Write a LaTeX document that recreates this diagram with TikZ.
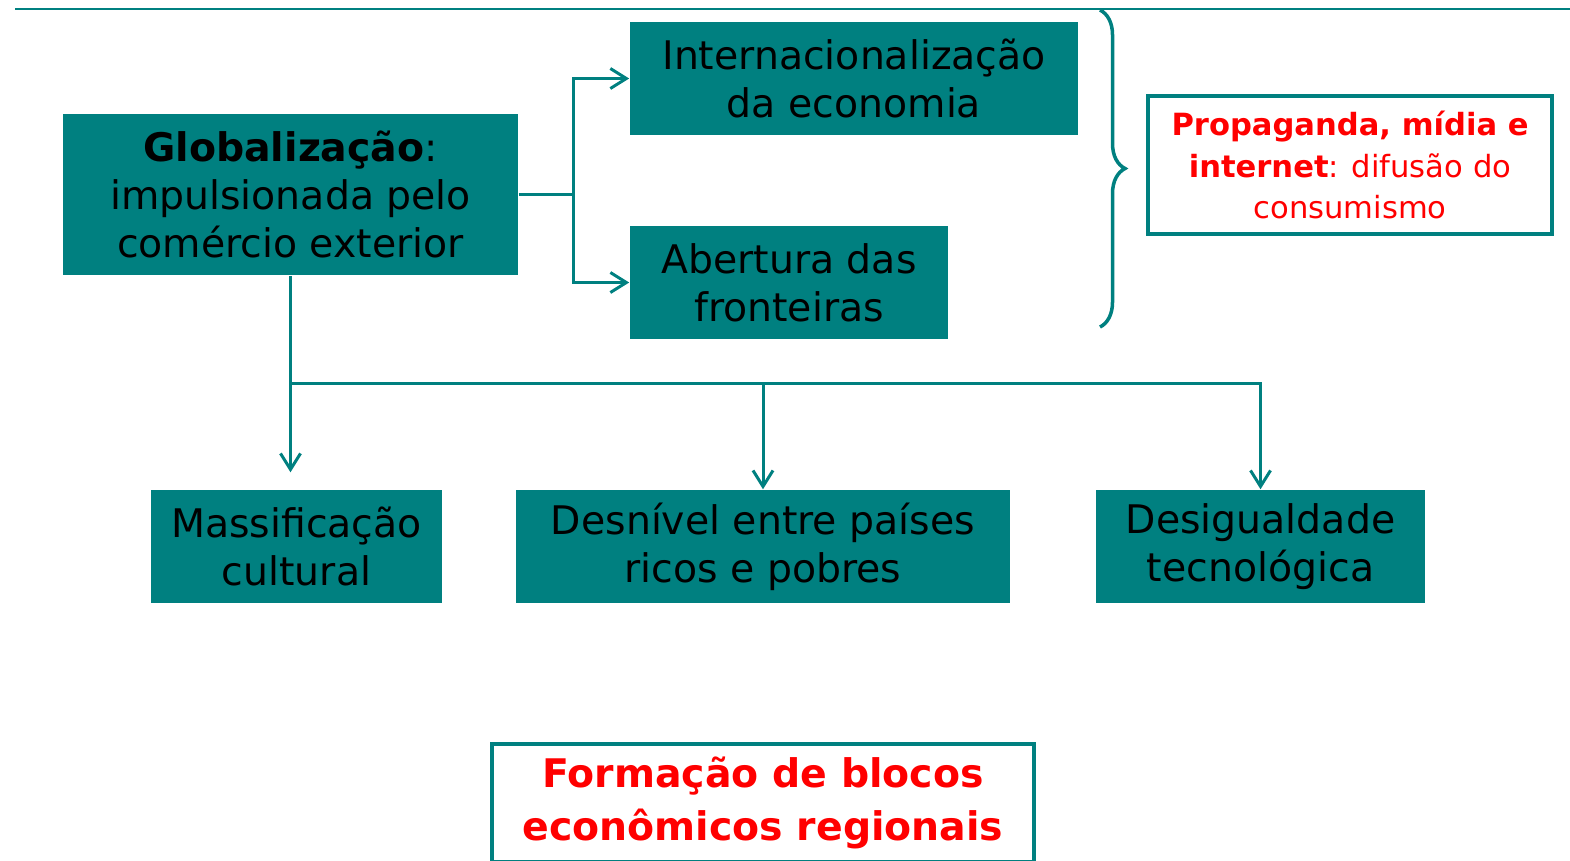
\documentclass[tikz,border=0pt]{standalone}
\usepackage{fontspec}
\setmainfont{DejaVu Sans}
\usetikzlibrary{arrows.meta,decorations.pathreplacing}
\definecolor{boxteal}{RGB}{0,128,128}
\definecolor{txtred}{RGB}{255,0,0}

\begin{document}
\begin{tikzpicture}[x=0.01cm,y=-0.01cm,
	tealbox/.style={fill=boxteal, text=black, align=center, inner sep=0pt,
		minimum height=1.13cm, font=\fontsize{11.2}{13.7}\selectfont},
	framebox/.style={draw=boxteal, line width=1.3pt, fill=white, text=txtred,
		align=center, inner sep=0pt},
	link/.style={draw=boxteal, line width=0.85pt},
	arr/.style={link, -{Straight Barb[length=1.6mm,width=2mm]}}]
	\useasboundingbox (0,0) rectangle (1570,860);
	\clip (0,0) rectangle (1570,860);
	\draw[boxteal, line width=0.6pt] (15,9) -- (1570,9);
	\node[tealbox, minimum width=4.55cm, minimum height=1.61cm] (glob) at (290.5,194.5)
		{\textbf{Globalização}:\\impulsionada pelo\\comércio exterior};
	\node[tealbox, minimum width=4.48cm] (intern) at (854,78.5) {Internacionalização\\da economia};
	\node[tealbox, minimum width=3.18cm] (abert) at (789,282.5) {Abertura das\\fronteiras};
	\node[tealbox, minimum width=2.91cm] (massif) at (296.5,546.5) {Massificação\\cultural};
	\node[tealbox, minimum width=4.94cm] (desn) at (763,546.5) {Desnível entre países\\ricos e pobres};
	\node[tealbox, minimum width=3.29cm] (desig) at (1260.5,546.5) {Desigualdade\\tecnológica};
	\node[framebox, minimum width=4.04cm, minimum height=1.38cm,
		font=\fontsize{8.7}{11.7}\selectfont] (midia) at (1350,165)
		{\textbf{Propaganda, mídia e}\\\textbf{internet}: difusão do\\consumismo};
	\node[framebox, minimum width=5.42cm, minimum height=1.18cm,
		font=\bfseries\fontsize{11.2}{15.1}\selectfont] (blocos) at (763,803)
		{Formação de blocos\\econômicos regionais};
	\draw[link] (glob.east) -- ++(55,0) coordinate (fork);
	\draw[arr] (fork) |- (intern.west);
	\draw[arr] (fork) |- (abert.west);
	\coordinate (bus) at (glob.south |- 0,383);
	\draw[arr, shorten >=1.7mm] (glob.south) -- (glob.south |- massif.north);
	\draw[arr] (bus) -| (desig.north);
	\draw[arr] (bus -| desn.north) -- (desn.north);
	\draw[boxteal, line width=1pt, decoration={brace, amplitude=0.25cm}, decorate]
		(1100,10) -- (1100,327);
\end{tikzpicture}
\end{document}
